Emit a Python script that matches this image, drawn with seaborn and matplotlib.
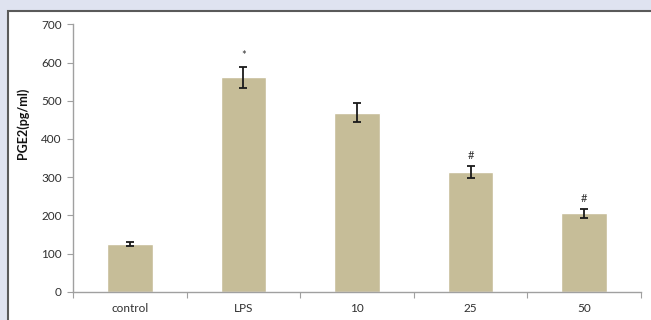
import matplotlib
matplotlib.use("Agg")
import matplotlib.pyplot as plt
from matplotlib.patches import Rectangle
from matplotlib.ticker import FixedLocator
import seaborn as sns
import pandas as pd

categories = ["control", "LPS", "10", "25", "50"]
pge2 = [124, 561, 469, 313, 205]
pge2_err = [5, 28, 24, 16, 11]
marks = ["", "*", "", "#", "#"]

sns.set_style("white")
plt.rcParams["font.family"] = ["Lato", "DejaVu Sans"]

df = pd.DataFrame({"group": categories, "pge2": pge2})

fig = plt.figure(figsize=(6.51, 3.20), dpi=100)
fig.patch.set_facecolor("#dfe3f0")

# white framed panel behind the chart
panel = Rectangle((8 / 651, -0.1), 1.5, 1 - 11 / 320 + 0.1,
                  transform=fig.transFigure, facecolor="white",
                  edgecolor="#5a5a5a", linewidth=1.5, zorder=-5)
fig.patches.append(panel)

ax = fig.add_axes([73 / 651, 1 - 291.7 / 320, (641 - 73) / 651, (291.7 - 24.3) / 320])
ax.set_zorder(5)
ax.set_facecolor("none")

sns.barplot(data=df, x="group", y="pge2", color="#c6bd98", saturation=1,
            width=0.4, errorbar=None, ax=ax)

xs = list(range(len(categories)))
ax.errorbar(xs, pge2, yerr=pge2_err, fmt="none", ecolor="#1a1a1a",
            elinewidth=1.3, capsize=3, capthick=1.3, zorder=5)

for x, v, e, m in zip(xs, pge2, pge2_err, marks):
    if m:
        ax.text(x, v + e + 14, m, ha="center", va="bottom",
                fontsize=8, color="#333333")

ax.set_xlim(-0.5, len(categories) - 0.5)
ax.set_ylim(0, 700)
ax.set_yticks(range(0, 701, 100))
ax.tick_params(axis="y", length=4, width=0.8, color="#a0a0a0",
               labelsize=8.5, labelcolor="#303030", pad=4, left=True)
ax.tick_params(axis="x", which="major", length=0, labelsize=8.5,
               labelcolor="#303030", pad=8)
ax.xaxis.set_minor_locator(FixedLocator([i + 0.5 for i in range(-1, len(categories))]))
ax.tick_params(axis="x", which="minor", length=4, width=0.8, color="#a0a0a0",
               bottom=True)

for side in ["top", "right"]:
    ax.spines[side].set_visible(False)
for side in ["left", "bottom"]:
    ax.spines[side].set_color("#a0a0a0")
    ax.spines[side].set_linewidth(1.0)

ax.set_xlabel("")
ax.set_ylabel("PGE2(pg/ml)", fontsize=9, fontweight="bold", color="#111111")
ax.yaxis.set_label_coords(-0.078, 0.63)

fig.savefig("out.png", dpi=100, facecolor=fig.get_facecolor())
